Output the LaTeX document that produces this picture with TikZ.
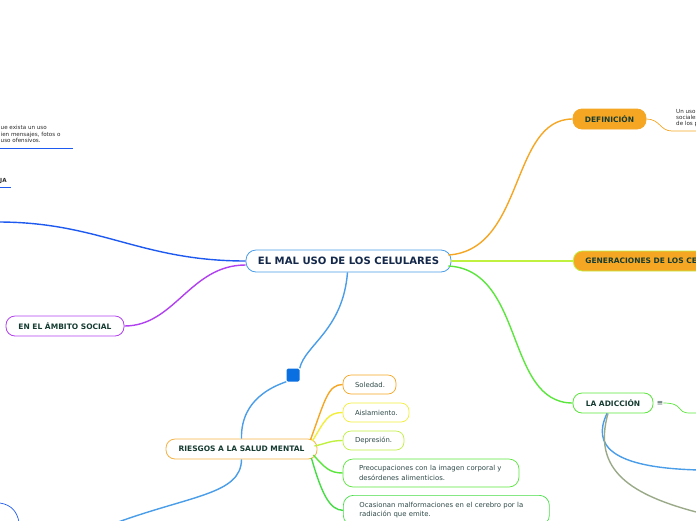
\documentclass[tikz,border=0pt]{standalone}
\usepackage{fontspec}
\setmainfont{DejaVu Sans}
\usetikzlibrary{calc}
\definecolor{cblue}{HTML}{1F5AF0}
\definecolor{lblue}{HTML}{4A9DE8}
\definecolor{cpurple}{HTML}{B040F0}
\definecolor{corange}{HTML}{F5A623}
\definecolor{cyellow}{HTML}{F2EE3A}
\definecolor{cygreen}{HTML}{C0F040}
\definecolor{cgreen}{HTML}{5AE63C}
\definecolor{cgreen2}{HTML}{44DD44}
\definecolor{colive}{HTML}{9AAA88}
\definecolor{ctitle}{HTML}{163C32}
\definecolor{cnavy}{HTML}{14284A}
\definecolor{ctext}{HTML}{2F4A48}
\definecolor{cgray}{HTML}{2A2A2A}
\tikzset{
  topic/.style={rounded corners=9pt, line width=0.8pt, fill=white, font=\bfseries\fontsize{7.5}{8}\selectfont, text=ctitle, minimum height=20pt, inner sep=0pt},
  leaf/.style={rounded corners=8pt, line width=0.7pt, fill=white, font=\fontsize{6.9}{9.2}\selectfont, text=ctext, minimum height=19pt, inner sep=0pt, align=left},
  conn/.style={line width=1.4pt},
  thin/.style={line width=0.7pt},
  small/.style={font=\fontsize{5.6}{6.3}\selectfont, text=cgray, align=left, inner sep=0pt, anchor=north west}
}
\begin{document}
\begin{tikzpicture}[x=1pt,y=-1pt]
\useasboundingbox (0,0) rectangle (696,520);
\clip (0,0) rectangle (696,520);
% nodes
\node[draw=lblue, rounded corners=10pt, line width=0.8pt, fill=white, minimum width=205pt, minimum height=22pt, inner sep=0pt, font=\bfseries\fontsize{10.1}{11}\selectfont, text=cnavy] (c) at (348.5,261) {EL MAL USO DE LOS CELULARES};
\node[topic, draw=corange, fill=corange, minimum width=73pt] (def) at (609.5,119) {DEFINICIÓN};
\node[topic, draw=cygreen, fill=corange, anchor=west, minimum width=190pt, text width=166pt, align=left] (gen) at (573,261) {GENERACIONES DE LOS CELULARES};
\node[topic, draw=cgreen, minimum width=80pt] (adi) at (613,403) {LA ADICCIÓN};
\node[font=\fontsize{7.5}{8}\selectfont, text=ctext, inner sep=0pt] (eq) at (660,403) {≡};
\node[topic, draw=cpurple, minimum width=118pt] (amb) at (65,326) {EN EL ÁMBITO SOCIAL};
\node[topic, draw=corange!85, minimum width=151pt] (rie) at (241.5,449) {RIESGOS A LA SALUD MENTAL};
\node[draw=none, fill={rgb,255:red,10;green,111;blue,224}, rounded corners=1.5pt, minimum size=13pt, inner sep=0pt] (sq) at (293,375) {};
\node[leaf, draw=corange, minimum width=53pt, text width=29pt] (sol) at (369.5,384.5) {Soledad.};
\node[leaf, draw=cyellow, minimum width=66pt, text width=42pt] (ais) at (376,412.5) {Aislamiento.};
\node[leaf, draw=cygreen, minimum width=61pt, text width=37pt] (dep) at (373.5,440.5) {Depresión.};
\node[leaf, draw=cgreen, minimum width=176pt, minimum height=28pt, text width=144pt, rounded corners=10pt] (pre) at (431,473) {Preocupaciones con la imagen corporal y\\desórdenes alimenticios.};
\node[leaf, draw=cgreen2, minimum width=206pt, minimum height=30pt, text width=174pt, rounded corners=10pt, anchor=north west] (oca) at (343,495) {Ocasionan malformaciones en el cerebro por la\\radiación que emite.};
% side texts
\node[small] (tl) at (0.5,125.5) {ue exista un uso\\ien mensajes, fotos o\\uso ofensivos.};
\coordinate (tlu1) at (0,148);
\coordinate (tlu2) at (73,148);
\draw[cblue, line width=1pt] (tlu1) -- (tlu2);
\node[font=\bfseries\fontsize{5.6}{6}\selectfont, text=cgray, inner sep=0pt, anchor=north west] (ja) at (0,178) {JA};
\coordinate (jau1) at (0,187);
\coordinate (jau2) at (11,187);
\draw[cblue, line width=1pt] (jau1) -- (jau2);
\node[small] (dtx) at (676,109) {Un uso\\sociales\\de los p};
\coordinate (du1) at (672,131);
\coordinate (du2) at (696,131);
\coordinate (au1) at (690,413);
\coordinate (au2) at (696,413);
% connectors
\draw[corange, conn] ($(c.east)+(-3,-6)$) .. controls (525,250) and (510,119) .. (def.west);
\draw[cygreen, conn] (c.east) -- (gen.west);
\draw[cgreen, conn] ($(c.east)+(-3,5)$) .. controls (525,270) and (505,403) .. (adi.west);
\draw[corange, thin] (def.east) .. controls (660,119) and (660,131) .. (du1) -- (du2);
\draw[cgreen, thin] (eq.east) .. controls (685,403) and (675,413) .. (au1) -- (au2);
\coordinate (ab1) at (700,470);
\coordinate (ab2) at (700,513);
\draw[lblue, conn] ($(adi.south)+(-6,0)$) .. controls (592,445) and (610,468) .. (ab1);
\draw[colive, conn] ($(adi.south)+(-5,0)$) .. controls (592,470) and (630,495) .. (ab2);
\coordinate (lft) at (-2,222);
\draw[cblue, conn] (c.west) .. controls (140,261) and (100,222) .. (lft);
\draw[cpurple, conn] ($(c.west)+(0,4)$) .. controls (190,265) and (175,326) .. (amb.east);
\draw[lblue, conn] ($(c.south)+(-1,0)$) .. controls (343,330) and (305,345) .. (sq.north east);
\draw[lblue, conn] (sq.south west) .. controls (248,395) and (241,420) .. (rie.north);
\coordinate (bl) at (110,525);
\draw[lblue, conn] (rie.south) .. controls (241,495) and (190,495) .. (bl);
\coordinate (arc1) at (0,503);
\coordinate (arc2) at (19,522);
\draw[cblue, thin] (arc1) .. controls (12,505) and (17,512) .. (arc2);
\draw[corange, conn] ($(rie.east)+(-7,-9)$) .. controls (325,400) and (328,384.5) .. (sol.west);
\draw[cyellow, conn] ($(rie.east)+(-5,-8)$) .. controls (325,420) and (328,412.5) .. (ais.west);
\draw[cygreen, conn] ($(rie.east)+(-3,-3)$) .. controls (325,444) and (330,440.5) .. (dep.west);
\draw[cgreen, conn] ($(rie.east)+(-4,6)$) .. controls (325,468) and (330,473) .. (pre.west);
\draw[cgreen2, conn] ($(rie.east)+(-6,9)$) .. controls (322,495) and (330,510) .. (oca.west);
\end{tikzpicture}
\end{document}
